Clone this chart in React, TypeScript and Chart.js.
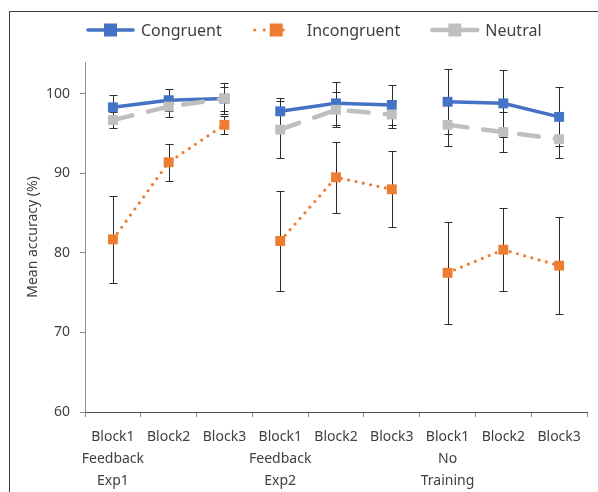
import React, { useEffect, useRef } from "react";
import { Chart, registerables } from "chart.js";

Chart.register(...registerables);

const categories: string[][] = [
  ["Block1", "Feedback", "Exp1"],
  ["Block2"],
  ["Block3"],
  ["Block1", "Feedback", "Exp2"],
  ["Block2"],
  ["Block3"],
  ["Block1", "No", "Training"],
  ["Block2"],
  ["Block3"],
];

const congruent = [98.3, 99.2, 99.4, 97.8, 98.8, 98.6, 99.0, 98.8, 97.1];
const congruentErr = [1.5, 1.4, 1.5, 1.7, 2.7, 2.5, 4.1, 4.2, 3.7];
const incongruent = [81.7, 91.4, 96.1, 81.5, 89.5, 88.0, 77.5, 80.4, 78.4];
const incongruentErr = [5.5, 2.3, 1.1, 6.3, 4.5, 4.75, 6.4, 5.2, 6.1];
const neutral = [96.7, 98.4, 99.4, 95.5, 98.0, 97.4, 96.1, 95.2, 94.3];
const neutralErr = [1.0, 1.3, 1.9, 3.6, 2.2, 1.7, 2.7, 2.5, 2.4];

const yTicks = [60, 70, 80, 90, 100];
const yMin = 60;
const yMax = 104;
const yTitle = "Mean accuracy (%)";
const seriesNames = ["Congruent", "Incongruent", "Neutral"];

const BLUE = "#4472C4";
const ORANGE = "#ED7D31";
const GRAY = "#BFBFBF";
const FONT = '"Noto Sans", "DejaVu Sans", sans-serif';
const TEXT = "#404040";

const errors = [congruentErr, incongruentErr, neutralErr];

const errorBarPlugin = {
  id: "errorBars",
  beforeDatasetsDraw(chart: any) {
    const ctx = chart.ctx;
    const yScale = chart.scales.y;
    ctx.save();
    ctx.strokeStyle = "#2b2b2b";
    ctx.lineWidth = 1;
    chart.data.datasets.forEach((ds: any, i: number) => {
      const meta = chart.getDatasetMeta(i);
      const errs = errors[i];
      meta.data.forEach((pt: any, j: number) => {
        const v = ds.data[j];
        const e = errs[j];
        const x = Math.round(pt.x) + 0.5;
        const yt = Math.round(yScale.getPixelForValue(v + e)) + 0.5;
        const yb = Math.round(yScale.getPixelForValue(v - e)) + 0.5;
        ctx.beginPath();
        ctx.moveTo(x, yt);
        ctx.lineTo(x, yb);
        ctx.moveTo(x - 4, yt);
        ctx.lineTo(x + 4, yt);
        ctx.moveTo(x - 4, yb);
        ctx.lineTo(x + 4, yb);
        ctx.stroke();
      });
    });
    ctx.restore();
  },
};

const legendPlugin = {
  id: "customLegend",
  afterDraw(chart: any) {
    const ctx = chart.ctx;
    const styles = [
      { color: BLUE, width: 3.5, dash: [] as number[], dots: false },
      { color: ORANGE, width: 3.2, dash: [0, 9.5], dots: true },
      { color: GRAY, width: 4.5, dash: [] as number[], dots: false },
    ];
    ctx.save();
    ctx.font = `16px ${FONT}`;
    ctx.textBaseline = "middle";
    const y = 18;
    let x = 77;
    seriesNames.forEach((name, i) => {
      const s = styles[i];
      ctx.save();
      ctx.strokeStyle = s.color;
      ctx.lineWidth = s.width;
      ctx.lineCap = "round";
      ctx.setLineDash(s.dash);
      ctx.beginPath();
      if (s.dots) {
        ctx.moveTo(x + 2, y);
        ctx.lineTo(x + 40, y);
      } else {
        ctx.moveTo(x + 1, y);
        ctx.lineTo(x + 46, y);
      }
      ctx.stroke();
      ctx.restore();
      ctx.fillStyle = s.color;
      ctx.fillRect(x + 23.5 - 6.5, y - 6.5, 13, 13);
      ctx.fillStyle = TEXT;
      ctx.fillText(name, x + 54, y + 1);
      const w = ctx.measureText(name).width;
      x = x + 54 + w + 31;
    });
    ctx.restore();
  },
};

function gapSegment(color: string) {
  return (c: any) => (c.p0DataIndex % 3 === 2 ? "rgba(0,0,0,0)" : color);
}

export default function App() {
  const ref = useRef<HTMLCanvasElement>(null);

  useEffect(() => {
    if (!ref.current) return;
    const chart = new Chart(ref.current, {
      type: "line",
      data: {
        labels: categories,
        datasets: [
          {
            label: seriesNames[0],
            data: congruent,
            borderColor: BLUE,
            backgroundColor: BLUE,
            borderWidth: 3.5,
            pointStyle: "rect",
            pointRadius: 7,
            pointBorderWidth: 0,
            pointBackgroundColor: BLUE,
            order: 3,
            segment: { borderColor: gapSegment(BLUE) },
          },
          {
            label: seriesNames[1],
            data: incongruent,
            borderColor: ORANGE,
            backgroundColor: ORANGE,
            borderWidth: 3.2,
            borderDash: [0, 7.5],
            borderCapStyle: "round",
            pointStyle: "rect",
            pointRadius: 7,
            pointBorderWidth: 0,
            pointBackgroundColor: ORANGE,
            order: 2,
            segment: { borderColor: gapSegment(ORANGE) },
          },
          {
            label: seriesNames[2],
            data: neutral,
            borderColor: GRAY,
            backgroundColor: GRAY,
            borderWidth: 4.5,
            borderDash: [20, 16],
            borderCapStyle: "round",
            pointStyle: "rect",
            pointRadius: 7,
            pointBorderWidth: 0,
            pointBackgroundColor: GRAY,
            order: 1,
            segment: { borderColor: gapSegment(GRAY) },
          },
        ],
      },
      options: {
        responsive: false,
        animation: false,
        events: [],
        layout: { padding: { top: 50, right: 11, left: 0, bottom: 0 } },
        plugins: {
          legend: { display: false },
          tooltip: { enabled: false },
        },
        scales: {
          x: {
            type: "category",
            offset: true,
            grid: {
              offset: true,
              drawOnChartArea: false,
              drawTicks: true,
              tickLength: 5,
              color: "#8c8c8c",
            },
            border: { color: "#4d4d4d", width: 1 },
            ticks: {
              padding: 9,
              maxRotation: 0,
              autoSkip: false,
              color: TEXT,
              font: { family: FONT, size: 14, lineHeight: 1.57 },
            },
            afterFit: (scale: any) => {
              scale.height = 80;
            },
          },
          y: {
            type: "linear",
            min: yMin,
            max: yMax,
            grid: {
              drawOnChartArea: false,
              drawTicks: true,
              tickLength: 5,
              color: "#8c8c8c",
            },
            border: { color: "#8c8c8c", width: 1 },
            ticks: {
              includeBounds: false,
              padding: 10,
              color: TEXT,
              font: { family: FONT, size: 14 },
            },
            afterBuildTicks: (scale: any) => {
              scale.ticks = yTicks.map((v) => ({ value: v }));
            },
            title: {
              display: true,
              text: yTitle,
              color: TEXT,
              font: { family: FONT, size: 14 },
              padding: { top: 15, bottom: 0 },
            },
            afterFit: (scale: any) => {
              scale.width = 75;
            },
          },
        },
      },
      plugins: [errorBarPlugin, legendPlugin],
    } as any);
    return () => chart.destroy();
  }, []);

  return (
    <div
      style={{
        position: "fixed",
        left: 9,
        top: 11,
        width: 589,
        height: 481,
        borderLeft: "1px solid #3f3f3f",
        borderTop: "1px solid #3f3f3f",
        background: "#fff",
      }}
    >
      <canvas ref={ref} width={588} height={480} style={{ display: "block" }} />
    </div>
  );
}
